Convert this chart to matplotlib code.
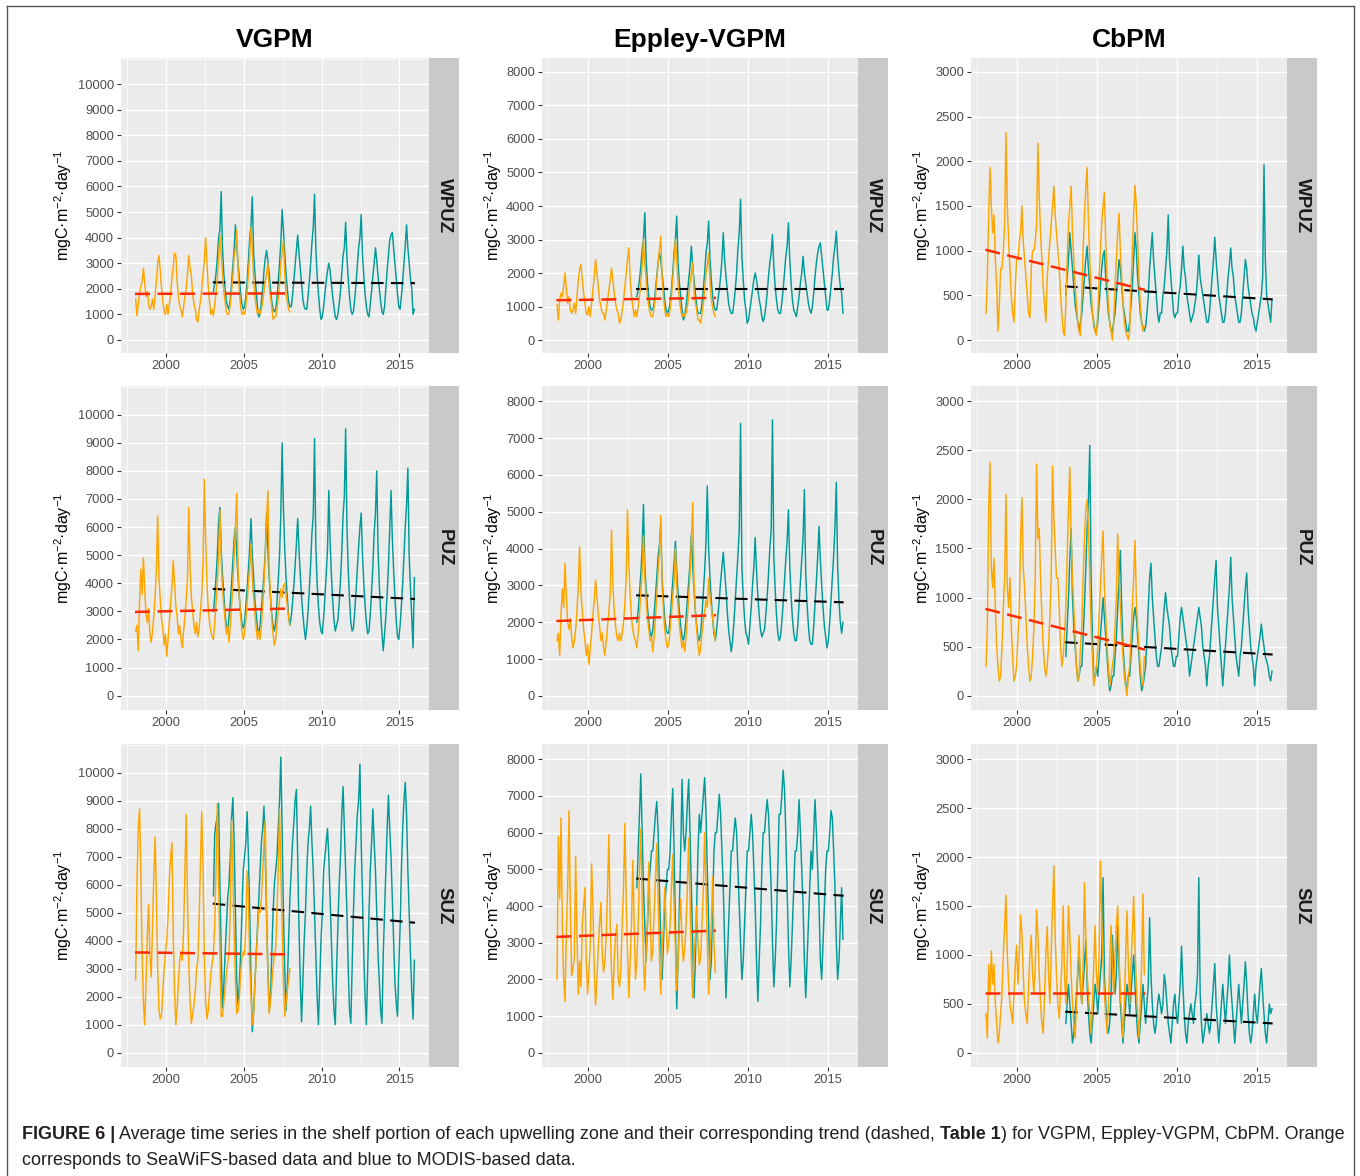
import numpy as np
import matplotlib
matplotlib.use('Agg')
import matplotlib.pyplot as plt
from matplotlib import font_manager
from matplotlib.ticker import FixedLocator

plt.rcParams['font.family'] = ['Liberation Sans', 'DejaVu Sans']
plt.rcParams['mathtext.fontset'] = 'custom'
plt.rcParams['mathtext.rm'] = 'Liberation Sans'
plt.rcParams['mathtext.it'] = 'Liberation Sans:italic'
plt.rcParams['mathtext.bf'] = 'Liberation Sans:bold'

# ---------------- data ----------------
models = ['VGPM', 'Eppley-VGPM', 'CbPM']
zones = ['WPUZ', 'PUZ', 'SUZ']
sw_start = 1998.0      # SeaWiFS monthly series start
modis_start = 2003.0   # MODIS monthly series start
x_ticks = [2000, 2005, 2010, 2015]
x_minor = [1997.5, 2002.5, 2007.5, 2012.5]
y_ticks = {'VGPM': list(range(0, 10001, 1000)),
           'Eppley-VGPM': list(range(0, 8001, 1000)),
           'CbPM': list(range(0, 3001, 500))}

# ---- VGPM ----
sw_vgpm_wpuz = [
    1600, 950, 1400, 1800, 2100, 2300, 2800, 2200, 1700, 1900, 1400, 1200,
    1300, 1600, 1200, 1700, 2300, 3000, 3300, 2700, 2000, 1500, 1100, 1000,
    1400, 1000, 1400, 1800, 2400, 2900, 3400, 3300, 2300, 1700, 1300, 1200,
    900, 1300, 1700, 2000, 2600, 3300, 2800, 2500, 1800, 1400, 1200, 800,
    700, 1200, 1500, 2000, 2600, 3100, 4000, 3000, 2100, 1500, 1000, 1200,
    950, 1400, 1800, 2400, 3200, 4100, 3300, 2600, 1900, 1500, 1100, 1000,
    1000, 1400, 1900, 2500, 3300, 3600, 4300, 2800, 1900, 1300, 1000, 1100,
    1000, 1300, 1900, 2600, 3400, 4400, 3500, 2500, 1700, 1300, 1000, 1200,
    1000, 1200, 1500, 1900, 2300, 2600, 3000, 2100, 1700, 1300, 800, 900,
    900, 1200, 1600, 2200, 3000, 3400, 3900, 2600, 1800, 1500, 1200, 1100]
modis_vgpm_wpuz = [
    1900, 2200, 2600, 3200, 4000, 4300, 5800, 3600, 2600, 2000, 1500, 1300,
    1200, 1600, 2200, 2900, 3600, 4500, 3700, 3000, 2400, 1800, 1400, 1200,
    1300, 1700, 2300, 3100, 4000, 4500, 5600, 3400, 2600, 1900, 1300, 900,
    1000, 1500, 2000, 2700, 3200, 3500, 3100, 2600, 2000, 1500, 1200, 1100,
    1200, 1600, 2300, 3000, 3800, 5100, 4300, 3400, 2600, 2000, 1500, 1300,
    1300, 1700, 2300, 2900, 3500, 4100, 3400, 2800, 2200, 1600, 1300, 1200,
    1200, 1700, 2300, 3000, 3800, 4400, 5700, 3600, 2500, 1800, 1200, 800,
    900, 1300, 1800, 2300, 2700, 3000, 2700, 2200, 1700, 1300, 900, 800,
    1000, 1400, 1900, 2600, 3300, 3600, 4600, 3200, 2400, 1700, 1200, 1000,
    1100, 1600, 2200, 2900, 3600, 4000, 4900, 3300, 2500, 1800, 1300, 1000,
    900, 1400, 1900, 2500, 3000, 3600, 3100, 2500, 2000, 1500, 1100, 1000,
    1300, 2000, 2700, 3300, 3900, 4100, 4200, 3600, 3000, 2400, 1800, 1300,
    1200, 1700, 2300, 3000, 3700, 4500, 3600, 3000, 2400, 2000, 1000, 1200]

sw_vgpm_puz = [
    2300, 2500, 1600, 3300, 4500, 3600, 4900, 3800, 2900, 2600, 3100, 2200,
    1900, 2300, 2800, 3500, 4500, 6400, 4200, 3400, 2700, 2400, 1800, 2200,
    1400, 2000, 2600, 3300, 3900, 4800, 4000, 3200, 2800, 2200, 2500, 2000,
    1700, 2300, 2800, 3400, 4200, 6700, 4500, 3500, 3000, 2500, 2200, 2600,
    2100, 2400, 3000, 3600, 4800, 7700, 5500, 4000, 3100, 2600, 2300, 2100,
    2000, 2600, 3300, 4000, 5000, 6600, 4800, 3800, 3200, 2700, 2200, 2500,
    1900, 2500, 3200, 4000, 5000, 6000, 7200, 4500, 3500, 2800, 2300, 2000,
    2200, 2700, 3300, 4000, 4600, 5400, 4200, 3500, 2900, 2400, 2000, 2300,
    2000, 2500, 3200, 4000, 5000, 6200, 7300, 4600, 3500, 2700, 2200, 1800,
    2000, 2500, 3000, 3400, 3800, 3500, 3900, 4000, 3600, 3200, 2800, 2500]
modis_vgpm_puz = [
    3000, 3500, 4200, 5000, 6200, 6700, 5200, 4300, 3600, 2900, 2500, 2300,
    2800, 3300, 4000, 4800, 5600, 6000, 5000, 4200, 3500, 3000, 2600, 2400,
    2600, 3200, 3800, 4500, 5300, 6300, 5000, 4200, 3400, 2900, 2400, 2200,
    2500, 3100, 3700, 4300, 5100, 6500, 5200, 4200, 3500, 2900, 2500, 2300,
    2600, 3300, 4100, 5000, 6500, 9000, 6700, 5200, 4200, 3500, 2800, 2500,
    2800, 3300, 3900, 4600, 5400, 6300, 5200, 4300, 3500, 2900, 2400, 2000,
    2400, 3000, 3800, 4700, 5800, 6400, 9150, 5300, 4000, 3200, 2600, 2300,
    2200, 2800, 3500, 4300, 5200, 7300, 5500, 4300, 3400, 2700, 2300, 2500,
    2700, 3300, 4100, 5100, 6400, 7100, 9500, 6000, 4500, 3400, 2600, 2300,
    2400, 3000, 3700, 4500, 5300, 6000, 6500, 5000, 4000, 3200, 2600, 2200,
    2300, 2900, 3700, 4600, 5800, 6500, 8000, 5200, 3900, 3000, 2200, 1600,
    2200, 2800, 3600, 4600, 5900, 7300, 5600, 4500, 3500, 2700, 2100, 2000,
    2500, 3200, 4000, 5000, 6000, 6800, 8100, 5000, 3800, 2800, 1700, 4200]

sw_vgpm_suz = [
    2600, 6000, 8000, 8700, 6500, 3500, 1800, 1000, 2500, 4200, 5300, 3500,
    2700, 4500, 6300, 7700, 5600, 3000, 1500, 1200, 1400, 2200, 3000, 3600,
    4000, 4900, 6200, 7000, 7500, 4200, 2200, 1000, 1600, 2500, 3300, 3600,
    3300, 4400, 6500, 8500, 5500, 3200, 1800, 1050, 1400, 1700, 2200, 3000,
    3300, 4800, 6800, 8600, 6500, 3500, 1800, 1200, 1500, 2200, 2800, 3200,
    3500, 4600, 6500, 8900, 6000, 3500, 1300, 1300, 1800, 2300, 2800, 3200,
    3500, 5200, 8300, 6500, 4200, 2500, 1400, 1500, 2000, 2800, 3400, 3600,
    3500, 4500, 6500, 5500, 3200, 2000, 1000, 1400, 2500, 3400, 4300, 5100,
    5000, 5500, 6500, 7500, 8300, 4700, 2800, 1400, 1800, 2400, 3000, 3500,
    3700, 5000, 6500, 8700, 6500, 4500, 2500, 1300, 1800, 2200, 2600, 3000]
modis_vgpm_suz = [
    5600, 7800, 8200, 8400, 8900, 6000, 3500, 1600, 2400, 3500, 4500, 5500,
    6000, 7000, 8400, 9100, 7500, 5000, 2500, 1700, 2500, 3500, 5000, 6500,
    7000, 7500, 8600, 7000, 5000, 2500, 750, 1500, 2500, 3500, 4500, 5500,
    6500, 7500, 8000, 8800, 7000, 5000, 3000, 1500, 2000, 3500, 5000, 6000,
    6500, 7000, 8000, 9000, 10550, 8000, 5000, 3000, 1500, 2500, 4000, 5500,
    6500, 7500, 8200, 9000, 9400, 7000, 4500, 2500, 1100, 2500, 4000, 5000,
    6500, 7500, 8000, 8800, 7500, 6500, 5000, 3500, 2000, 1000, 2500, 4000,
    5000, 6500, 7000, 7500, 8000, 7000, 5500, 4000, 2500, 1500, 1000, 3000,
    4500, 6000, 7000, 8500, 9500, 8000, 6500, 5000, 3000, 1500, 1050, 3000,
    5000, 6500, 7500, 8500, 9000, 10300, 7500, 5500, 3500, 2000, 1000, 3000,
    5000, 6500, 7500, 8700, 7500, 6500, 5000, 3500, 2500, 1500, 1050, 3500,
    5000, 6500, 8000, 9200, 8000, 7000, 5500, 4000, 2500, 1800, 1300, 3000,
    4500, 6500, 8000, 9000, 9650, 8500, 6500, 5000, 3500, 2200, 1200, 3300]

# ---- Eppley-VGPM ----
sw_epp_wpuz = [
    1050, 600, 1200, 1400, 1300, 1600, 2000, 1500, 1100, 1300, 900, 800,
    900, 1100, 800, 1300, 1800, 2100, 2250, 1800, 1400, 1100, 800, 750,
    1000, 700, 1100, 1500, 1900, 2400, 2000, 1600, 1200, 1000, 800, 800,
    600, 900, 1200, 1500, 1800, 2150, 1800, 1400, 1100, 900, 800, 500,
    600, 900, 1200, 1600, 2000, 2400, 2750, 1800, 1300, 1000, 700, 900,
    700, 1000, 1300, 1700, 2200, 3000, 2300, 1800, 1300, 1000, 800, 700,
    700, 1000, 1300, 1800, 2300, 2700, 3100, 1900, 1300, 900, 700, 800,
    700, 900, 1300, 1800, 2400, 3000, 2400, 1700, 1200, 900, 700, 800,
    700, 800, 1000, 1300, 1700, 2000, 2300, 1500, 1100, 900, 600, 600,
    500, 800, 1100, 1500, 2000, 2200, 2600, 1800, 1200, 1000, 800, 700]
modis_epp_wpuz = [
    1300, 1500, 1800, 2200, 2700, 3000, 3800, 2400, 1700, 1300, 1000, 900,
    900, 1100, 1500, 1900, 2300, 2600, 2400, 2000, 1600, 1200, 900, 800,
    900, 1100, 1500, 2000, 2600, 3000, 3700, 2300, 1700, 1300, 900, 600,
    700, 1000, 1400, 1800, 2200, 2800, 2200, 1800, 1400, 1000, 800, 800,
    800, 1100, 1500, 2000, 2600, 2900, 3550, 2400, 1800, 1300, 1000, 900,
    900, 1200, 1500, 1900, 2400, 3200, 2400, 1900, 1500, 1100, 900, 800,
    800, 1100, 1500, 2000, 2700, 3200, 4200, 2500, 1800, 1200, 900, 500,
    600, 900, 1200, 1500, 1800, 2000, 1800, 1500, 1200, 1000, 700, 550,
    700, 1000, 1400, 1900, 2300, 2600, 3150, 2200, 1600, 1200, 900, 800,
    800, 1100, 1500, 2000, 2500, 2800, 3500, 2400, 1700, 1200, 900, 800,
    700, 1000, 1300, 1700, 2000, 2500, 2000, 1700, 1400, 1100, 900, 800,
    1000, 1400, 1900, 2300, 2600, 2800, 2900, 2500, 2100, 1700, 1300, 900,
    900, 1200, 1600, 2000, 2500, 2800, 3250, 2500, 2000, 1600, 1400, 800]

sw_epp_puz = [
    1500, 1700, 1100, 2200, 2900, 2400, 3600, 2700, 2000, 1800, 2100, 1600,
    1300, 1500, 1800, 2300, 3000, 4050, 2800, 2300, 1800, 1500, 1100, 1400,
    850, 1300, 1700, 2200, 2600, 3150, 2700, 2200, 1900, 1500, 1700, 1300,
    1100, 1500, 1900, 2300, 2800, 4500, 3000, 2300, 1900, 1600, 1500, 1700,
    1500, 1700, 2000, 2500, 3200, 5050, 3600, 2700, 2100, 1800, 1600, 1500,
    1300, 1700, 2200, 2800, 3400, 4350, 3200, 2600, 2100, 1800, 1500, 1600,
    1200, 1600, 2100, 2700, 3400, 3900, 4900, 3000, 2300, 1800, 1500, 1300,
    1400, 1800, 2200, 2700, 3100, 4000, 3000, 2400, 1900, 1600, 1300, 1500,
    1200, 1600, 2100, 2700, 3300, 4200, 5250, 3100, 2300, 1800, 1400, 1100,
    1300, 1700, 2000, 2300, 2600, 2400, 3200, 2700, 2400, 2100, 1800, 1500]
modis_epp_puz = [
    2000, 2300, 2800, 3300, 4000, 5200, 3500, 2900, 2400, 2000, 1700, 1600,
    1800, 2200, 2700, 3200, 3800, 4100, 4650, 3200, 2600, 2100, 1800, 1700,
    1700, 2100, 2600, 3100, 3600, 4200, 3400, 2800, 2300, 1900, 1600, 1500,
    1700, 2100, 2600, 3100, 3600, 4400, 3500, 2900, 2300, 1900, 1600, 1500,
    1700, 2200, 2800, 3400, 4200, 5700, 4000, 3200, 2600, 2100, 1700, 1500,
    1800, 2200, 2600, 3100, 3500, 3900, 3400, 2900, 2300, 1800, 1500, 1200,
    1500, 2000, 2600, 3200, 3800, 4500, 7400, 3500, 2700, 2100, 1700, 1600,
    1400, 1900, 2400, 3000, 3500, 4300, 3400, 2700, 2200, 1800, 1600, 1700,
    1800, 2200, 2700, 3300, 4000, 4500, 7500, 3800, 2900, 2200, 1700, 1500,
    1600, 2000, 2500, 3100, 3700, 4200, 5050, 3500, 2700, 2100, 1700, 1500,
    1500, 1900, 2500, 3100, 3700, 4300, 5600, 3300, 2500, 1900, 1500, 1400,
    1400, 1900, 2500, 3100, 3800, 4600, 3700, 3000, 2400, 1900, 1600, 1300,
    1500, 2000, 2600, 3200, 3800, 4600, 5800, 3500, 2600, 2000, 1700, 2000]

sw_epp_suz = [
    2000, 5900, 4200, 6400, 3400, 2000, 1400, 3300, 4500, 6600, 4000, 2100,
    2300, 2600, 5350, 3200, 1600, 2500, 1800, 3500, 4000, 4500, 2500, 1600,
    2200, 3000, 5150, 4000, 2300, 1300, 2000, 2900, 3500, 4100, 2700, 2200,
    2500, 3200, 4500, 5950, 3500, 2200, 1450, 2500, 3200, 3500, 2000, 1800,
    2300, 3500, 4500, 6250, 4200, 2800, 1500, 2500, 3500, 5250, 3500, 2000,
    2500, 3500, 5000, 6100, 4000, 2500, 1700, 2800, 3500, 5200, 3800, 2500,
    2800, 3800, 4800, 5700, 4200, 2600, 1600, 2800, 3500, 4500, 3500, 2700,
    3000, 3500, 4500, 5400, 4000, 2800, 1700, 2500, 3500, 4200, 3000, 2500,
    2800, 3500, 4500, 5850, 4200, 2500, 1500, 2500, 3200, 4000, 3000, 2400,
    2600, 3500, 4500, 6000, 4500, 3000, 1600, 2500, 3500, 4800, 3000, 2200]
modis_epp_suz = [
    4500, 5500, 6500, 7600, 6000, 4500, 3500, 2500, 3500, 4500, 5000, 5500,
    5500, 6000, 6500, 6850, 6000, 4500, 3000, 2000, 3000, 4000, 4500, 5000,
    5000, 5500, 6500, 7200, 5500, 3500, 1200, 2500, 4000, 5500, 7450, 6000,
    5500, 6000, 6800, 7450, 6000, 4500, 3000, 1500, 2500, 4000, 5500, 6500,
    6000, 6500, 7000, 7500, 6500, 5000, 3500, 2000, 2500, 4000, 5500, 6000,
    6000, 6500, 7050, 6500, 5500, 4500, 3000, 1500, 2500, 3500, 4500, 5500,
    5500, 6000, 6400, 6000, 5000, 4000, 3000, 2000, 2500, 3500, 4500, 5500,
    5500, 6000, 6500, 6000, 5000, 4000, 2500, 1400, 2500, 3500, 5000, 6000,
    6000, 6500, 6900, 6500, 5500, 4500, 3000, 1800, 2500, 3500, 5000, 6500,
    6500, 7000, 7700, 7200, 6000, 4500, 3000, 1800, 2500, 3500, 4500, 5500,
    5500, 6000, 6900, 6000, 5000, 4000, 2500, 1500, 2500, 3500, 4500, 5500,
    5000, 6000, 6900, 6000, 5000, 4000, 2500, 2000, 3000, 4000, 5000, 5500,
    5500, 6000, 6600, 6400, 5500, 4500, 3000, 2000, 2500, 3500, 4500, 3100]

# ---- CbPM ----
sw_cbpm_wpuz = [
    300, 700, 1400, 1930, 1500, 1200, 1400, 900, 600, 100, 400, 800,
    800, 1000, 1300, 2320, 1500, 1100, 800, 500, 300, 200, 600, 900,
    900, 1100, 1200, 1500, 1100, 900, 700, 500, 300, 250, 800, 1000,
    1000, 1100, 1300, 2200, 1600, 1200, 900, 600, 400, 200, 700, 900,
    1100, 1300, 1500, 1720, 1400, 1200, 1000, 800, 500, 300, 100, 50,
    400, 900, 1300, 1500, 1720, 1200, 900, 600, 400, 200, 100, 50,
    500, 1000, 1400, 1700, 1930, 1300, 900, 600, 300, 150, 100, 50,
    300, 700, 1000, 1300, 1500, 1650, 1100, 700, 400, 200, 100, 0,
    200, 600, 900, 1200, 1420, 1000, 700, 400, 200, 100, 50, 0,
    100, 600, 1000, 1400, 1730, 1500, 1100, 700, 400, 200, 100, 150]
modis_cbpm_wpuz = [
    500, 700, 900, 1200, 1000, 800, 600, 400, 300, 200, 100, 200,
    300, 500, 700, 900, 1050, 800, 600, 400, 300, 200, 100, 100,
    200, 400, 600, 800, 950, 1000, 700, 500, 300, 200, 100, 100,
    200, 300, 500, 700, 900, 800, 600, 400, 300, 200, 100, 100,
    200, 400, 600, 900, 1200, 1000, 700, 500, 300, 200, 150, 100,
    150, 300, 500, 800, 1000, 1200, 900, 700, 500, 300, 200, 300,
    300, 500, 600, 800, 1000, 1400, 900, 700, 500, 300, 250, 300,
    300, 500, 600, 800, 1050, 800, 700, 500, 400, 300, 200, 250,
    300, 400, 500, 700, 950, 700, 600, 500, 400, 300, 200, 200,
    300, 500, 700, 900, 1150, 900, 700, 500, 400, 300, 200, 200,
    300, 500, 700, 850, 1030, 800, 700, 500, 400, 300, 200, 200,
    300, 500, 700, 900, 800, 600, 500, 400, 300, 250, 150, 100,
    200, 300, 400, 500, 700, 1960, 900, 500, 400, 300, 200, 450]

sw_cbpm_puz = [
    300, 700, 1900, 2380, 1300, 1100, 1400, 900, 500, 300, 150, 200,
    500, 900, 1200, 2050, 1100, 900, 1200, 700, 400, 150, 200, 300,
    600, 900, 1600, 2020, 1300, 1100, 800, 500, 300, 150, 200, 400,
    700, 1200, 2360, 1600, 1700, 1200, 800, 500, 300, 200, 300, 500,
    800, 1200, 2340, 1800, 1500, 1200, 1200, 900, 500, 300, 400, 600,
    900, 1400, 1900, 2330, 1600, 1200, 900, 600, 300, 150, 200, 500,
    700, 1200, 1600, 1900, 2000, 1700, 1200, 700, 400, 100, 200, 300,
    500, 800, 1100, 1400, 1680, 1100, 800, 500, 300, 100, 200, 300,
    400, 700, 1000, 1650, 1200, 900, 600, 400, 200, 100, 0, 200,
    300, 600, 900, 1200, 1580, 1000, 700, 500, 300, 150, 100, 400]
modis_cbpm_puz = [
    400, 700, 1000, 1400, 1700, 1000, 700, 500, 300, 150, 200, 300,
    300, 600, 900, 1300, 1700, 2000, 2550, 1200, 600, 150, 200, 300,
    200, 400, 600, 800, 1000, 800, 600, 400, 200, 50, 100, 200,
    200, 400, 600, 900, 1200, 1480, 900, 500, 300, 100, 100, 200,
    200, 400, 600, 800, 900, 800, 600, 400, 200, 50, 100, 200,
    300, 600, 900, 1200, 1350, 1000, 800, 600, 400, 300, 300, 400,
    500, 700, 900, 1050, 900, 800, 700, 500, 400, 300, 300, 400,
    400, 600, 800, 900, 800, 700, 600, 500, 400, 200, 300, 400,
    500, 600, 700, 800, 900, 800, 700, 500, 400, 300, 100, 300,
    400, 600, 800, 1000, 1200, 1380, 900, 700, 500, 300, 100, 300,
    500, 700, 900, 1100, 1410, 1000, 800, 600, 400, 300, 200, 400,
    500, 700, 900, 1100, 1250, 900, 700, 500, 400, 300, 100, 300,
    400, 500, 600, 730, 600, 500, 400, 350, 300, 200, 150, 250]

sw_cbpm_suz = [
    400, 150, 900, 600, 1040, 700, 900, 500, 300, 100, 200, 400,
    600, 1000, 1300, 1610, 1000, 700, 500, 400, 300, 600, 900, 1100,
    700, 1000, 1410, 1200, 800, 500, 400, 300, 700, 1000, 1200, 800,
    600, 900, 1460, 1200, 800, 500, 300, 200, 600, 1000, 1290, 800,
    500, 1000, 1500, 1910, 1200, 800, 500, 350, 600, 900, 1500, 800,
    500, 900, 1500, 1200, 800, 500, 300, 150, 500, 900, 1200, 700,
    500, 900, 1740, 1200, 800, 600, 400, 200, 500, 900, 1300, 800,
    600, 1000, 1960, 1400, 900, 600, 400, 200, 500, 900, 1300, 900,
    600, 1000, 1300, 1500, 1000, 600, 400, 150, 500, 1000, 1450, 900,
    500, 900, 1200, 1600, 1100, 700, 400, 150, 500, 900, 1620, 800]
modis_cbpm_suz = [
    300, 500, 700, 500, 300, 100, 200, 400, 600, 800, 1000, 700,
    500, 700, 900, 1150, 700, 400, 200, 100, 300, 500, 700, 600,
    400, 600, 800, 1000, 1790, 800, 500, 300, 200, 300, 600, 1200,
    800, 600, 800, 1300, 900, 500, 300, 100, 300, 500, 700, 600,
    400, 600, 800, 1000, 700, 400, 200, 100, 300, 500, 700, 500,
    300, 500, 700, 1380, 800, 500, 300, 200, 300, 500, 600, 500,
    400, 500, 800, 700, 500, 300, 200, 100, 300, 500, 600, 400,
    300, 500, 700, 1090, 700, 400, 200, 100, 300, 400, 500, 400,
    300, 500, 600, 800, 1790, 600, 300, 100, 200, 300, 400, 300,
    200, 300, 500, 700, 910, 500, 300, 100, 300, 500, 700, 500,
    300, 500, 700, 1000, 700, 500, 300, 100, 300, 500, 700, 500,
    300, 500, 700, 930, 700, 400, 200, 100, 200, 400, 600, 400,
    300, 500, 700, 860, 600, 400, 200, 100, 300, 500, 400, 450]

# Linear trends: (start value, end value) over each sensor period
trend_sw_period = (1998.0, 2008.0)
trend_modis_period = (2003.0, 2016.0)
trend_sw = {('VGPM', 'WPUZ'): (1800, 1820), ('VGPM', 'PUZ'): (2980, 3100), ('VGPM', 'SUZ'): (3580, 3510),
            ('Eppley-VGPM', 'WPUZ'): (1190, 1260), ('Eppley-VGPM', 'PUZ'): (2030, 2190), ('Eppley-VGPM', 'SUZ'): (3160, 3330),
            ('CbPM', 'WPUZ'): (1010, 560), ('CbPM', 'PUZ'): (885, 470), ('CbPM', 'SUZ'): (615, 615)}
trend_modis = {('VGPM', 'WPUZ'): (2250, 2220), ('VGPM', 'PUZ'): (3800, 3440), ('VGPM', 'SUZ'): (5320, 4640),
               ('Eppley-VGPM', 'WPUZ'): (1530, 1530), ('Eppley-VGPM', 'PUZ'): (2730, 2540), ('Eppley-VGPM', 'SUZ'): (4750, 4280),
               ('CbPM', 'WPUZ'): (600, 455), ('CbPM', 'PUZ'): (545, 420), ('CbPM', 'SUZ'): (420, 300)}

series_sw = {('VGPM', 'WPUZ'): sw_vgpm_wpuz, ('VGPM', 'PUZ'): sw_vgpm_puz, ('VGPM', 'SUZ'): sw_vgpm_suz,
             ('Eppley-VGPM', 'WPUZ'): sw_epp_wpuz, ('Eppley-VGPM', 'PUZ'): sw_epp_puz, ('Eppley-VGPM', 'SUZ'): sw_epp_suz,
             ('CbPM', 'WPUZ'): sw_cbpm_wpuz, ('CbPM', 'PUZ'): sw_cbpm_puz, ('CbPM', 'SUZ'): sw_cbpm_suz}
series_modis = {('VGPM', 'WPUZ'): modis_vgpm_wpuz, ('VGPM', 'PUZ'): modis_vgpm_puz, ('VGPM', 'SUZ'): modis_vgpm_suz,
                ('Eppley-VGPM', 'WPUZ'): modis_epp_wpuz, ('Eppley-VGPM', 'PUZ'): modis_epp_puz, ('Eppley-VGPM', 'SUZ'): modis_epp_suz,
                ('CbPM', 'WPUZ'): modis_cbpm_wpuz, ('CbPM', 'PUZ'): modis_cbpm_puz, ('CbPM', 'SUZ'): modis_cbpm_suz}

caption_line1 = [("FIGURE 6 |", 'bold'),
                 (" Average time series in the shelf portion of each upwelling zone and their corresponding trend (dashed, ", 'normal'),
                 ("Table 1", 'bold'),
                 (") for VGPM, Eppley-VGPM, CbPM. Orange", 'normal')]
caption_line2 = [("corresponds to SeaWiFS-based data and blue to MODIS-based data.", 'normal')]

# ---------------- style / layout ----------------
W, H = 1360, 1176
fig = plt.figure(figsize=(W / 100, H / 100), dpi=100)
fig.patch.set_facecolor('white')

C_SW = '#FFA500'
C_MODIS = '#009B98'
C_TREND_SW = '#FF2A00'
C_TREND_MODIS = '#000000'
PANEL_BG = '#EBEBEB'
STRIP_BG = '#C9C9C9'
TICK_COL = '#4D4D4D'

col_x = [(121, 429, 459), (542, 858, 888), (971, 1287, 1317)]
row_y = [(58, 353), (386, 710), (744, 1067)]
ylabel_x = [63, 493, 922]
ylims = {'VGPM': (-510, 11020), 'Eppley-VGPM': (-385, 8415), 'CbPM': (-145, 3155)}
y_minor_step = {'VGPM': 500, 'Eppley-VGPM': 500, 'CbPM': 250}


def rect(x0, y0, x1, y1):
    return [x0 / W, 1 - y1 / H, (x1 - x0) / W, (y1 - y0) / H]


for ci, model in enumerate(models):
    px0, px1, sx1 = col_x[ci]
    for ri, zone in enumerate(zones):
        py0, py1 = row_y[ri]
        ax = fig.add_axes(rect(px0, py0, px1, py1))
        ax.set_facecolor(PANEL_BG)
        for s in ax.spines.values():
            s.set_visible(False)

        key = (model, zone)
        sw = np.asarray(series_sw[key], dtype=float)
        md = np.asarray(series_modis[key], dtype=float)
        t_sw = sw_start + (np.arange(len(sw)) + 0.5) / 12.0
        t_md = modis_start + (np.arange(len(md)) + 0.5) / 12.0

        ax.plot(t_md, md, color=C_MODIS, lw=1.05, zorder=3)
        ax.plot(trend_modis_period, trend_modis[key], color=C_TREND_MODIS, lw=1.5,
                dashes=(6, 3.5), zorder=4)
        ax.plot(t_sw, sw, color=C_SW, lw=1.05, zorder=5)
        ax.plot(trend_sw_period, trend_sw[key], color=C_TREND_SW, lw=1.8,
                dashes=(6, 3), zorder=6)

        ax.set_xlim(1997.1, 2016.9)
        ax.set_ylim(*ylims[model])
        ax.set_xticks(x_ticks)
        ax.set_xticklabels([str(v) for v in x_ticks])
        yt = y_ticks[model]
        ax.set_yticks(yt)
        ax.set_yticklabels([str(v) for v in yt])
        ax.xaxis.set_minor_locator(FixedLocator(x_minor))
        step = y_minor_step[model]
        ax.yaxis.set_minor_locator(FixedLocator(list(np.arange(-step, yt[-1] + 2 * step, 2 * step) + step)))
        ax.grid(True, which='major', color='white', lw=1.0, zorder=0)
        ax.grid(True, which='minor', color='white', lw=0.5, zorder=0)
        ax.set_axisbelow(True)
        ax.tick_params(which='major', length=3, width=0.8, color='#333333',
                       labelsize=9.3, labelcolor=TICK_COL, pad=2)
        ax.tick_params(which='minor', length=0)

        # y label
        fig.text(ylabel_x[ci] / W, 1 - (py0 + py1) / 2 / H,
                 'mgC·m$^{-2}$·day$^{-1}$', rotation=90, ha='center', va='center',
                 fontsize=11.5, color='black')

        # strip
        sax = fig.add_axes(rect(px1, py0, sx1, py1))
        sax.set_facecolor(STRIP_BG)
        sax.set_xticks([])
        sax.set_yticks([])
        for s in sax.spines.values():
            s.set_visible(False)
        sax.text(0.5, 0.5, zone, rotation=-90, ha='center', va='center',
                 fontsize=13.5, fontweight='bold', color='#1A1A1A', transform=sax.transAxes)

    # column title
    fig.text((px0 + px1) / 2 / W, 1 - 40 / H, model, ha='center', va='center',
             fontsize=19, fontweight='bold', color='black')

# outer frame (left, top, right)
frame_col = '#555555'
fig.add_artist(plt.Line2D([7 / W, 7 / W], [0, 1 - 6 / H], color=frame_col, lw=1.0))
fig.add_artist(plt.Line2D([7 / W, 1354 / W], [1 - 6 / H, 1 - 6 / H], color=frame_col, lw=1.0))
fig.add_artist(plt.Line2D([1354 / W, 1354 / W], [0, 1 - 6 / H], color=frame_col, lw=1.0))

# caption
names = {f.name for f in font_manager.fontManager.ttflist}
cap_family = ['Liberation Sans Narrow'] if 'Liberation Sans Narrow' in names else ['Liberation Sans']
renderer = fig.canvas.get_renderer()


def measure(pieces, size):
    total = 0
    for txt, w in pieces:
        t = fig.text(0, 0, txt, fontsize=size, fontweight=w, family=cap_family)
        total += t.get_window_extent(renderer=renderer).width
        t.remove()
    return total


base = 12.0
target = 1342 - 22
cap_size = base * target / measure(caption_line1, base)


def chain(pieces, x_px, y_px, size):
    x = x_px
    for txt, w in pieces:
        t = fig.text(x / W, 1 - y_px / H, txt, fontsize=size, fontweight=w, family=cap_family,
                     ha='left', va='baseline', color='#231F20')
        x += t.get_window_extent(renderer=renderer).width


chain(caption_line1, 22, 1139, cap_size)
chain(caption_line2, 22, 1165, cap_size)

fig.savefig('out.png', dpi=100, facecolor='white')
